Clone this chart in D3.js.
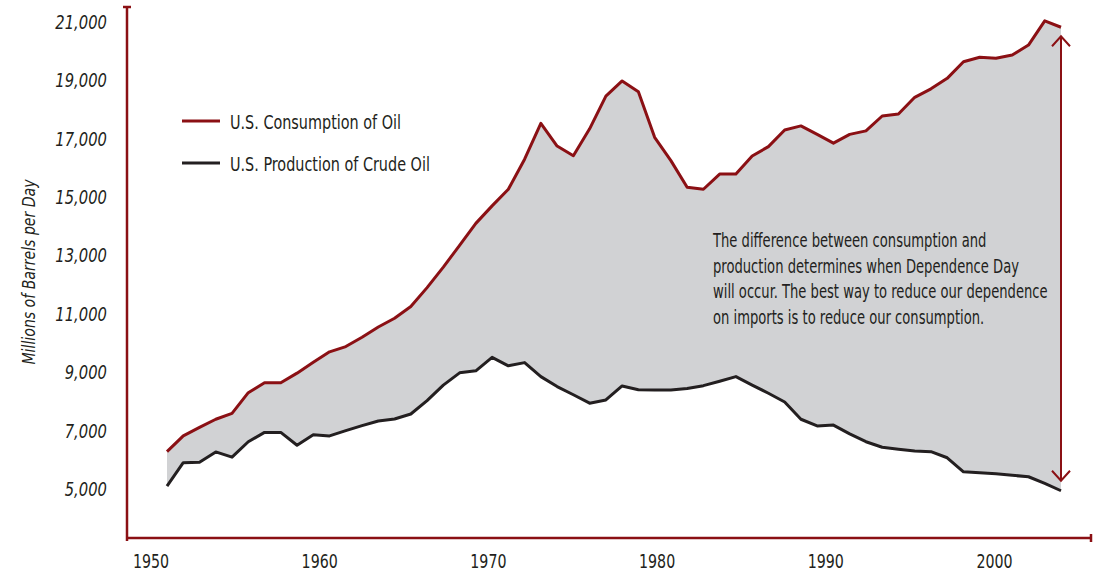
<!DOCTYPE html>
<html>
<head>
<meta charset="utf-8">
<script src="https://cdn.jsdelivr.net/npm/d3@7"></script>
<style>
  body { margin: 0; background: #fff; }
  svg { display: block; }
  text { font-family: "DejaVu Sans Condensed", "DejaVu Sans", sans-serif; fill: #231f20; }
</style>
</head>
<body>
<div id="chart"></div>
<script>
// Data (thousand barrels per day)
const years = [1950, 1951, 1952, 1953, 1954, 1955, 1956, 1957, 1958, 1959,
               1960, 1961, 1962, 1963, 1964, 1965, 1966, 1967, 1968, 1969,
               1970, 1971, 1972, 1973, 1974, 1975, 1976, 1977, 1978, 1979,
               1980, 1981, 1982, 1983, 1984, 1985, 1986, 1987, 1988, 1989,
               1990, 1991, 1992, 1993, 1994, 1995, 1996, 1997, 1998, 1999,
               2000, 2001, 2002, 2003, 2004, 2005];
const consumption = [6280, 6820, 7110, 7390, 7590, 8300, 8640, 8640, 8970, 9340,
                     9700, 9880, 10200, 10550, 10850, 11250, 11900, 12600, 13350, 14100,
                     14700, 15270, 16300, 17530, 16750, 16420, 17340, 18460, 18980, 18610,
                     17050, 16250, 15340, 15270, 15790, 15790, 16410, 16730, 17300, 17440,
                     17150, 16850, 17150, 17270, 17780, 17850, 18420, 18710, 19070, 19640,
                     19790, 19760, 19870, 20210, 21040, 20820];
const production = [5100, 5900, 5920, 6270, 6090, 6620, 6940, 6940, 6500, 6860,
                    6820, 7000, 7170, 7330, 7400, 7570, 8030, 8560, 8980, 9050,
                    9510, 9220, 9330, 8850, 8510, 8230, 7940, 8050, 8530, 8400,
                    8390, 8390, 8440, 8540, 8690, 8850, 8560, 8280, 7980, 7390,
                    7160, 7190, 6890, 6620, 6430, 6360, 6300, 6280, 6070, 5590,
                    5560, 5520, 5470, 5420, 5190, 4940];
const yTicks = [5000, 7000, 9000, 11000, 13000, 15000, 17000, 19000, 21000];
const xTicks = [1950, 1960, 1970, 1980, 1990, 2000];
const seriesNames = ["U.S. Consumption of Oil", "U.S. Production of Crude Oil"];
const note = [
    "The difference between consumption and",
    "production determines when Dependence Day",
    "will occur. The best way to reduce our dependence",
    "on imports is to reduce our consumption."
];

const red = "#8b1014";
const dark = "#231f20";

const svg = d3.select("#chart")
    .append("svg")
    .attr("width", 1093)
    .attr("height", 574);

// Scales
const y = d3.scaleLinear().domain([5000, 21000]).range([489, 22]);
const xLabel = d3.scaleLinear().domain([1950, 2000]).range([150.5, 994]);
const x = d3.scaleLinear().domain([1950, 2005]).range([167, 1061]);

const rows = years.map((yr, i) => ({year: yr, cons: consumption[i], prod: production[i]}));

// Gap area
svg.append("path")
    .datum(rows)
    .attr("fill", "#d1d2d4")
    .attr("d", d3.area()
        .x(d => x(d.year))
        .y0(d => y(d.prod))
        .y1(d => y(d.cons)));

// Lines
svg.append("path")
    .datum(rows)
    .attr("fill", "none")
    .attr("stroke", dark)
    .attr("stroke-width", 3)
    .attr("stroke-linejoin", "round")
    .attr("d", d3.line().x(d => x(d.year)).y(d => y(d.prod)));

svg.append("path")
    .datum(rows)
    .attr("fill", "none")
    .attr("stroke", red)
    .attr("stroke-width", 3)
    .attr("stroke-linejoin", "round")
    .attr("d", d3.line().x(d => x(d.year)).y(d => y(d.cons)));

// Axes lines
svg.append("line").attr("x1", 127).attr("x2", 127).attr("y1", 7).attr("y2", 541)
    .attr("stroke", red).attr("stroke-width", 2.5);
svg.append("line").attr("x1", 123).attr("x2", 131).attr("y1", 7).attr("y2", 7)
    .attr("stroke", red).attr("stroke-width", 2.5);
svg.append("line").attr("x1", 126).attr("x2", 1092).attr("y1", 538).attr("y2", 538)
    .attr("stroke", red).attr("stroke-width", 2.5);
svg.append("line").attr("x1", 1091).attr("x2", 1091).attr("y1", 534).attr("y2", 542)
    .attr("stroke", red).attr("stroke-width", 2.5);

// Y axis labels (condensed with a horizontal scale)
const yAxis = svg.append("g")
    .attr("transform", "translate(127,0)")
    .call(d3.axisLeft(y).tickValues(yTicks).tickSize(0).tickPadding(24.5)
        .tickFormat(d3.format(",")));
yAxis.select(".domain").remove();
yAxis.selectAll("text")
    .attr("transform", "scale(0.82,1)")
    .style("font-size", "20px")
    .style("font-style", "italic")
    .attr("fill", dark);

// X axis labels
const xAxis = svg.append("g")
    .attr("transform", "translate(0,538)")
    .call(d3.axisBottom(xLabel).tickValues(xTicks).tickSize(0).tickPadding(16)
        .tickFormat(d3.format("d")));
xAxis.select(".domain").remove();
xAxis.selectAll("text")
    .attr("transform", "scale(0.79,1)")
    .style("font-size", "20px")
    .attr("fill", dark);

// Y axis title
svg.append("text")
    .attr("transform", "translate(35,272) rotate(-90) scale(0.87,1)")
    .attr("text-anchor", "middle")
    .style("font-size", "18px")
    .style("font-style", "italic")
    .text("Millions of Barrels per Day");

// Legend
const legend = svg.append("g");
[red, dark].forEach((c, i) => {
    legend.append("line")
        .attr("x1", 182).attr("x2", 220)
        .attr("y1", 121 + i * 42).attr("y2", 121 + i * 42)
        .attr("stroke", c).attr("stroke-width", 3);
    legend.append("text")
        .attr("transform", `translate(230,${129 + i * 42}) scale(0.8,1)`)
        .style("font-size", "20px")
        .text(seriesNames[i]);
});

// Annotation
svg.append("g").selectAll("text")
    .data(note)
    .join("text")
    .attr("transform", (d, i) => `translate(713,${247 + i * 25.7}) scale(0.73,1)`)
    .style("font-size", "20px")
    .text(d => d);

// Arrow showing the gap in the final year
const last = rows[rows.length - 1];
const ax = x(last.year);
const yTop = y(last.cons) + 9;
const yBot = y(last.prod) - 10;
svg.append("line")
    .attr("x1", ax).attr("x2", ax).attr("y1", yTop).attr("y2", yBot)
    .attr("stroke", red).attr("stroke-width", 2);
svg.append("path")
    .attr("d", `M${ax - 9},${yTop + 10}L${ax},${yTop}L${ax + 9},${yTop + 10}`)
    .attr("fill", "none").attr("stroke", red).attr("stroke-width", 2);
svg.append("path")
    .attr("d", `M${ax - 9},${yBot - 10}L${ax},${yBot}L${ax + 9},${yBot - 10}`)
    .attr("fill", "none").attr("stroke", red).attr("stroke-width", 2);
</script>
</body>
</html>
